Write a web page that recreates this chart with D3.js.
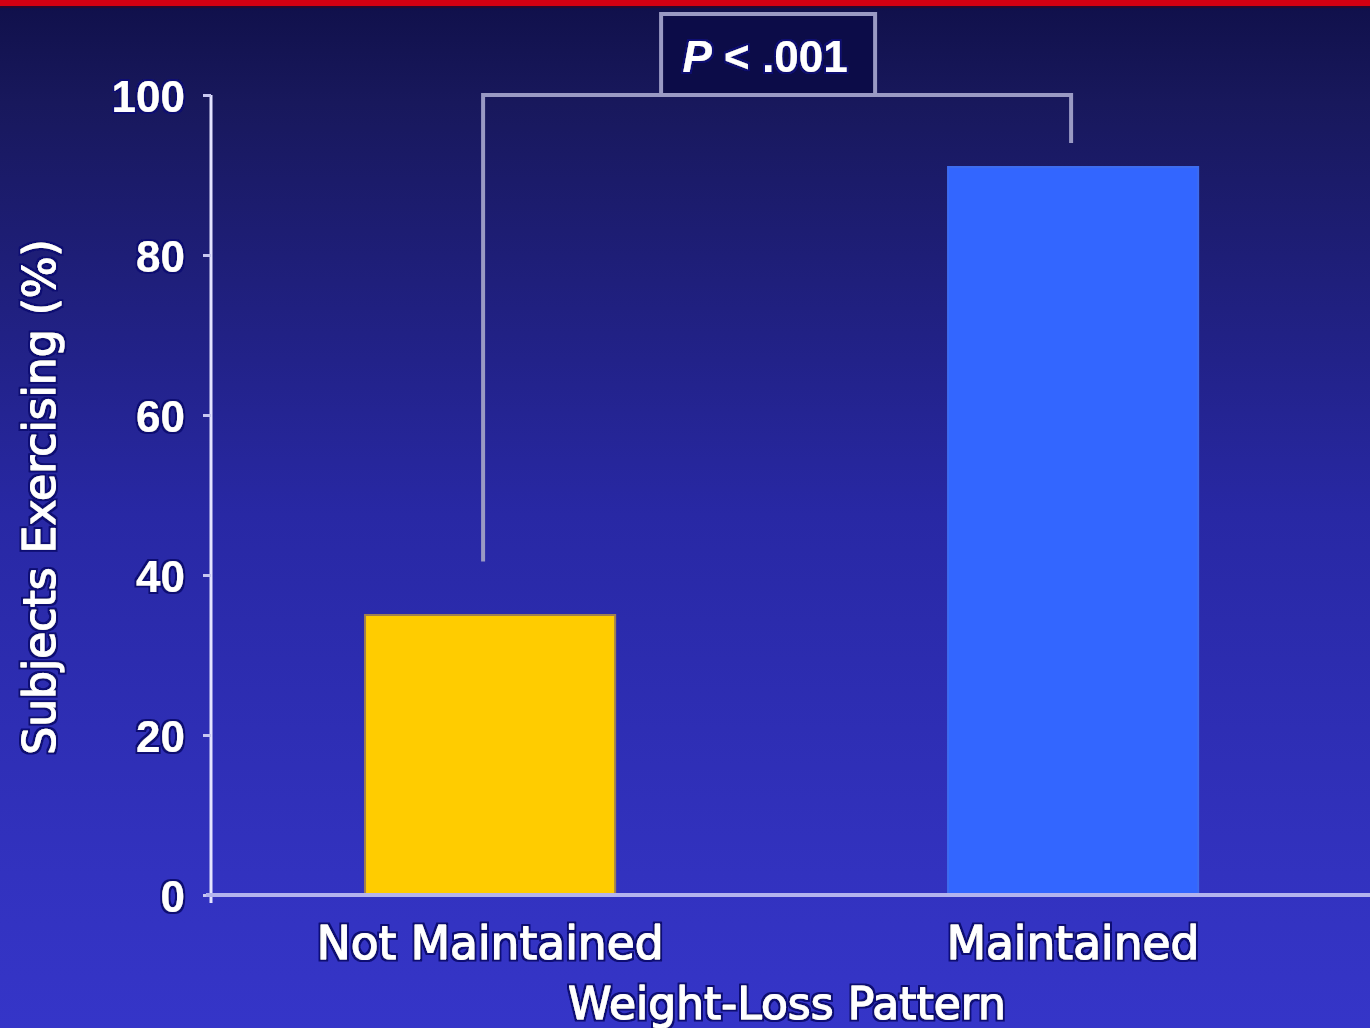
<!DOCTYPE html>
<html>
<head>
<meta charset="utf-8">
<script src="https://cdn.jsdelivr.net/npm/d3@7/dist/d3.min.js"></script>
<style>
  html, body { margin: 0; padding: 0; background: #1a1a60; }
  svg { display: block; }
  text { font-family: "DejaVu Sans", sans-serif; fill: #ffffff;
         stroke: #ffffff; stroke-width: 1.1px; stroke-linejoin: round; filter: url(#halo); }
  .num { font-family: "Liberation Sans", Arial, sans-serif; font-weight: bold; stroke-width: 0; }
</style>
</head>
<body>
<svg id="chart" width="1370" height="1028"></svg>
<script>
// Share of subjects exercising, by weight-loss pattern
const categories = ["Not Maintained", "Maintained"];
const values = [35, 91];
const barColors = ["#ffcc00", "#3366ff"];
const yTicks = [0, 20, 40, 60, 80, 100];
const yTitle = "Subjects Exercising (%)";
const xTitle = "Weight-Loss Pattern";
const pLabel = ["P", " < .001"];

const W = 1370, H = 1028;
const svg = d3.select("#chart");

const defs = svg.append("defs");
// dark outline behind the white lettering
const halo = defs.append("filter").attr("id", "halo")
  .attr("x", "-5%").attr("y", "-20%").attr("width", "110%").attr("height", "140%");
halo.append("feMorphology").attr("in", "SourceAlpha").attr("operator", "dilate")
  .attr("radius", 1.6).attr("result", "grown");
halo.append("feFlood").attr("flood-color", "#0e0e72").attr("result", "ink");
halo.append("feComposite").attr("in", "ink").attr("in2", "grown").attr("operator", "in").attr("result", "outline");
const merge = halo.append("feMerge");
merge.append("feMergeNode").attr("in", "outline");
merge.append("feMergeNode").attr("in", "SourceGraphic");

// background gradient
const grad = defs.append("linearGradient").attr("id", "bg")
  .attr("x1", 0).attr("y1", 0).attr("x2", 0).attr("y2", 1);
[[0, "#10104a"], [0.1, "#18185c"], [0.5, "#2828a4"], [0.85, "#3232bf"], [1, "#3535c8"]]
  .forEach(([o, c]) => grad.append("stop").attr("offset", o).attr("stop-color", c));
svg.append("rect").attr("width", W).attr("height", H).attr("fill", "url(#bg)");
svg.append("rect").attr("width", W).attr("height", 6).attr("fill", "#d40012");
svg.append("rect").attr("y", 6).attr("width", W).attr("height", 2).attr("fill", "#2a0a30");

const y = d3.scaleLinear().domain([0, 100]).range([895, 95]);
const x = d3.scaleBand().domain(categories).range([198.6, 1364.6])
  .paddingInner(0.571).paddingOuter(0.2855);

// bars
svg.append("g").selectAll("rect").data(categories).join("rect")
  .attr("x", d => x(d))
  .attr("y", (d, i) => y(values[i]))
  .attr("width", x.bandwidth())
  .attr("height", (d, i) => y(0) - y(values[i]))
  .attr("fill", (d, i) => barColors[i])
  .attr("stroke", (d, i) => i === 0 ? "#a08050" : "#3d6cf0")
  .attr("stroke-width", 2);

// y axis
const yAxis = svg.append("g").attr("transform", "translate(211,0)")
  .call(d3.axisLeft(y).tickValues(yTicks).tickSize(8).tickPadding(18));
yAxis.select(".domain").attr("stroke", "#e4e4ff").attr("stroke-width", 3)
  .attr("d", `M0,${y(100)}V${y(0) + 8}`);
yAxis.selectAll(".tick line").attr("stroke", "#c8c8f0").attr("stroke-width", 3);
yAxis.selectAll(".tick text").attr("class", "num").attr("font-size", 44).attr("dy", "0.38em");

// x axis baseline
svg.append("line").attr("x1", 206).attr("x2", W)
  .attr("y1", y(0)).attr("y2", y(0))
  .attr("stroke", "#b4b4ee").attr("stroke-width", 4);

// category labels
svg.append("g").selectAll("text").data(categories).join("text")
  .attr("x", d => x(d) + x.bandwidth() / 2)
  .attr("y", 959)
  .attr("text-anchor", "middle")
  .attr("font-size", 45.5)
  .text(d => d);

// axis titles
svg.append("text").attr("x", 787).attr("y", 1019).attr("text-anchor", "middle")
  .attr("font-size", 44).text(xTitle);
svg.append("text").attr("transform", `translate(55,${497}) rotate(-90)`)
  .attr("text-anchor", "middle").attr("font-size", 44).text(yTitle);

// significance bracket
const xl = x(categories[0]) + x.bandwidth() / 2 - 7;
const xr = x(categories[1]) + x.bandwidth() / 2 - 2;
const yTop = y(100);
svg.append("path")
  .attr("d", `M${xl},${y(values[0] + 6.7)}V${yTop}H${xr}V${y(values[1] + 3)}`)
  .attr("fill", "none").attr("stroke", "#9a9ac4").attr("stroke-width", 4);

const bx = (xl + xr) / 2 - 9, bw = 214, bh = 81;
svg.append("rect").attr("x", bx - bw / 2).attr("y", yTop - bh).attr("width", bw).attr("height", bh)
  .attr("fill", "#0c0c48").attr("stroke", "#9a9ac4").attr("stroke-width", 4);
const pt = svg.append("text").attr("class", "num").attr("x", bx - 3).attr("y", yTop - 23)
  .attr("text-anchor", "middle").attr("font-size", 44);
pt.append("tspan").attr("font-style", "italic").text(pLabel[0]);
pt.append("tspan").text(pLabel[1]);
</script>
</body>
</html>
